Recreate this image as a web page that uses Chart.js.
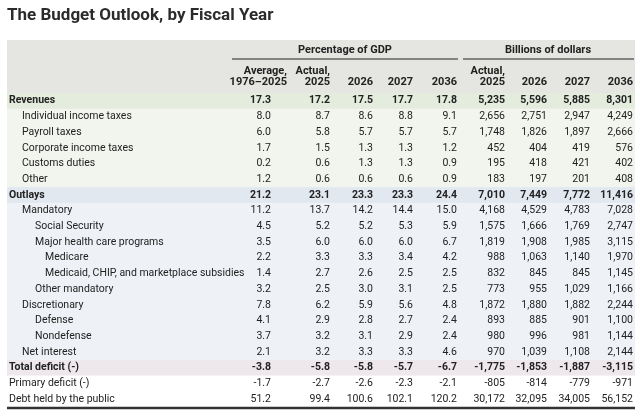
<!DOCTYPE html>
<html>
<head>
<meta charset="utf-8">
<script src="https://cdn.jsdelivr.net/npm/chart.js@4"></script>
<style>
  html, body { margin: 0; padding: 0; background: #fff; }
  #wrap { width: 640px; height: 417px; position: relative; }
</style>
</head>
<body>
<div id="wrap"><canvas id="tbl"></canvas></div>
<script>
// ---- data ----
const title = 'The Budget Outlook, by Fiscal Year';
const groupHeaders = ['Percentage of GDP', 'Billions of dollars'];
const columnHeaders = [
    ['Average,', '1976\u20132025'], ['Actual,', '2025'], ['', '2026'], ['', '2027'], ['', '2036'],
    ['Actual,', '2025'], ['', '2026'], ['', '2027'], ['', '2036']
];
const rowLabels = [
    'Revenues', 'Individual income taxes', 'Payroll taxes', 'Corporate income taxes', 'Customs duties', 'Other',
    'Outlays', 'Mandatory', 'Social Security', 'Major health care programs', 'Medicare',
    'Medicaid, CHIP, and marketplace subsidies', 'Other mandatory', 'Discretionary', 'Defense', 'Nondefense',
    'Net interest', 'Total deficit (-)', 'Primary deficit (-)', 'Debt held by the public'
];
const rowLevels = [0, 1, 1, 1, 1, 1, 0, 1, 2, 2, 3, 3, 2, 1, 2, 2, 1, 0, 0, 0];
const boldRows = ['Revenues', 'Outlays', 'Total deficit (-)'];
const pctValues = [
    ['17.3', '17.2', '17.5', '17.7', '17.8'],
    ['8.0', '8.7', '8.6', '8.8', '9.1'],
    ['6.0', '5.8', '5.7', '5.7', '5.7'],
    ['1.7', '1.5', '1.3', '1.3', '1.2'],
    ['0.2', '0.6', '1.3', '1.3', '0.9'],
    ['1.2', '0.6', '0.6', '0.6', '0.9'],
    ['21.2', '23.1', '23.3', '23.3', '24.4'],
    ['11.2', '13.7', '14.2', '14.4', '15.0'],
    ['4.5', '5.2', '5.2', '5.3', '5.9'],
    ['3.5', '6.0', '6.0', '6.0', '6.7'],
    ['2.2', '3.3', '3.3', '3.4', '4.2'],
    ['1.4', '2.7', '2.6', '2.5', '2.5'],
    ['3.2', '2.5', '3.0', '3.1', '2.5'],
    ['7.8', '6.2', '5.9', '5.6', '4.8'],
    ['4.1', '2.9', '2.8', '2.7', '2.4'],
    ['3.7', '3.2', '3.1', '2.9', '2.4'],
    ['2.1', '3.2', '3.3', '3.3', '4.6'],
    ['-3.8', '-5.8', '-5.8', '-5.7', '-6.7'],
    ['-1.7', '-2.7', '-2.6', '-2.3', '-2.1'],
    ['51.2', '99.4', '100.6', '102.1', '120.2']
];
const dollarValues = [
    ['5,235', '5,596', '5,885', '8,301'],
    ['2,656', '2,751', '2,947', '4,249'],
    ['1,748', '1,826', '1,897', '2,666'],
    ['452', '404', '419', '576'],
    ['195', '418', '421', '402'],
    ['183', '197', '201', '408'],
    ['7,010', '7,449', '7,772', '11,416'],
    ['4,168', '4,529', '4,783', '7,028'],
    ['1,575', '1,666', '1,769', '2,747'],
    ['1,819', '1,908', '1,985', '3,115'],
    ['988', '1,063', '1,140', '1,970'],
    ['832', '845', '845', '1,145'],
    ['773', '955', '1,029', '1,166'],
    ['1,872', '1,880', '1,882', '2,244'],
    ['893', '885', '901', '1,100'],
    ['980', '996', '981', '1,144'],
    ['970', '1,039', '1,108', '2,144'],
    ['-1,775', '-1,853', '-1,887', '-3,115'],
    ['-805', '-814', '-779', '-971'],
    ['30,172', '32,095', '34,005', '56,152']
];

// ---- layout / style ----
const colRight = [271, 330, 373, 413, 457, 505, 547, 590, 633];
const indentX = [9, 22, 35, 45];
const TABLE_L = 7, TABLE_R = 635;
const FONT = 'Roboto, "Noto Sans", sans-serif';
const ink = '#222';

const tablePlugin = {
    id: 'tablePlugin',
    beforeDraw(chart) {
        const ctx = chart.ctx;
        const y = chart.scales.y, x = chart.scales.x;
        const step = y.getPixelForValue(1) - y.getPixelForValue(0);
        const band = (r0, r1, color) => {
            const top = y.getPixelForValue(r0) - step / 2;
            const bot = y.getPixelForValue(r1) + step / 2;
            ctx.fillStyle = color;
            ctx.fillRect(x.getPixelForValue(TABLE_L), top, x.getPixelForValue(TABLE_R) - x.getPixelForValue(TABLE_L), bot - top);
        };
        ctx.save();
        band(0, 5, '#f1f5ee');
        band(0, 0, '#e4ecdd');
        band(6, 16, '#eef2f6');
        band(6, 6, '#e1e8ef');
        band(17, 17, '#eee8ed');

        // header block
        const headTop = 40, headBot = y.getPixelForValue(0) - step / 2;
        ctx.fillStyle = '#e5e5e2';
        ctx.fillRect(TABLE_L, headTop, TABLE_R - TABLE_L, headBot - headTop);

        // title
        ctx.fillStyle = '#2b2b2b';
        ctx.font = 'bold 17px ' + FONT;
        ctx.textBaseline = 'middle';
        ctx.textAlign = 'left';
        ctx.fillText(title, 7, 16);

        // group headers
        ctx.font = 'bold 11px ' + FONT;
        ctx.textAlign = 'center';
        ctx.fillStyle = ink;
        ctx.fillText(groupHeaders[0], 345, 50);
        ctx.fillText(groupHeaders[1], 548, 50);
        ctx.strokeStyle = '#222';
        ctx.lineWidth = 1.2;
        ctx.beginPath();
        ctx.moveTo(232, 59); ctx.lineTo(458, 59);
        ctx.moveTo(463, 59); ctx.lineTo(634, 59);
        ctx.stroke();

        // column headers
        ctx.textAlign = 'right';
        columnHeaders.forEach((h, i) => {
            const cx = x.getPixelForValue(colRight[i]) + (i === 0 ? 16 : 0);
            if (h[0]) ctx.fillText(h[0], cx, 71);
            ctx.fillText(h[1], cx, 82);
        });

        // rows
        rowLabels.forEach((lab, r) => {
            const py = y.getPixelForValue(r);
            const bold = boldRows.includes(lab);
            ctx.font = (bold ? 'bold ' : '') + '10.5px ' + FONT;
            ctx.fillStyle = ink;
            ctx.textAlign = 'left';
            ctx.fillText(lab, indentX[rowLevels[r]], py);
            ctx.textAlign = 'right';
            const vals = pctValues[r].concat(dollarValues[r]);
            vals.forEach((v, c) => ctx.fillText(v, x.getPixelForValue(colRight[c]), py));
        });

        // bottom rule
        const last = y.getPixelForValue(rowLabels.length - 1) + step / 2 + 1;
        ctx.strokeStyle = '#333';
        ctx.lineWidth = 2.5;
        ctx.beginPath();
        ctx.moveTo(TABLE_L, last); ctx.lineTo(TABLE_R, last);
        ctx.stroke();
        ctx.restore();
    }
};

new Chart(document.getElementById('tbl'), {
    type: 'scatter',
    data: { labels: rowLabels, datasets: [{ data: [], pointRadius: 0 }] },
    options: {
        responsive: true,
        maintainAspectRatio: false,
        animation: false,
        devicePixelRatio: 1,
        layout: { padding: { top: 93, bottom: 10, left: 0, right: 0 } },
        scales: {
            x: { type: 'linear', min: 0, max: 640, display: false },
            y: { type: 'category', labels: rowLabels, offset: true, display: false }
        },
        plugins: { legend: { display: false }, tooltip: { enabled: false } }
    },
    plugins: [tablePlugin]
});
</script>
</body>
</html>
